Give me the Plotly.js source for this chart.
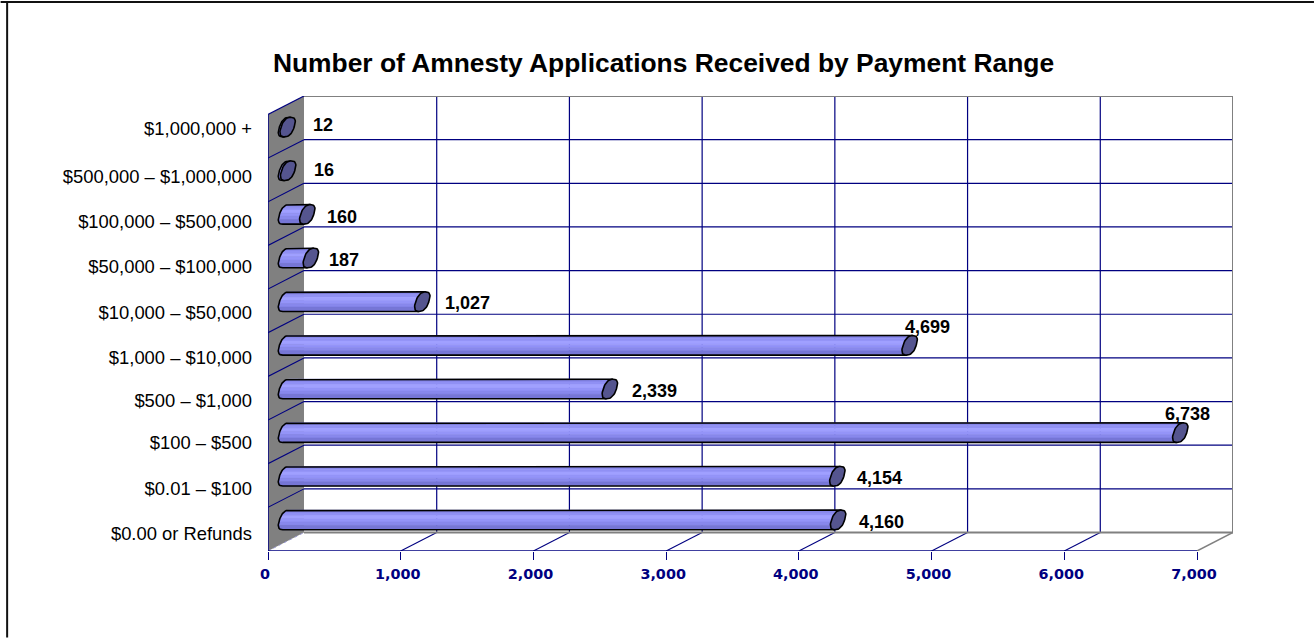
<!DOCTYPE html>
<html><head><meta charset="utf-8">
<script src="https://cdn.plot.ly/plotly-3.0.1.min.js"></script>
<style>html,body{margin:0;padding:0;background:#fff}#c{width:1314px;height:638px}</style>
</head><body><div id="c"></div>
<script>
// ---- data (bottom row first) ----
const categories = ["$0.00 or Refunds","$0.01 – $100","$100 – $500","$500 – $1,000","$1,000 – $10,000","$10,000 – $50,000","$50,000 – $100,000","$100,000 – $500,000","$500,000 – $1,000,000","$1,000,000 +"];
const valueLabels = [4160,4154,6738,2339,4699,1027,187,160,16,12];   // printed beside the bars
const barLengths  = [4160,4154,6738,2440,4699,1027,187,160,16,12];   // as drawn in the picture
const axisTicks = [0,1000,2000,3000,4000,5000,6000,7000];
const axisTickLabels = ["0","1,000","2,000","3,000","4,000","5,000","6,000","7,000"];
const chartTitle = "Number of Amnesty Applications Received by Payment Range";

// ---- layout tables (pixels), kept apart from the data ----
const W=1314,H=638;
const L=267.5,R=1233,T=96,B=551.5;
const DXP=36,DYP=18.5;             // oblique depth of the pseudo-3D box
const UX=132.75/1000,UY=43.7;      // px per value unit, px per row
const DX=DXP/UX,DY=DYP/UY;
const CAP_A=6.6,CAP_B=9.8,CAP_C=3.2,CAP_R=2.5;
const catNudge=[4,2.7,.4,2.1,2.8,1.5,-.7,-2,-3.4,-7.6];       // tick label vertical shift from row centre
const valNudgeX=[19.3,18.1,-17,20,-6.3,21.2,15.7,17.3,23.4,23.9];
const valNudgeY=[-1.6,-1.3,19,-1.7,18.6,-1.1,-1.8,-2.5,.8,1.6];

const NAVY="#000080",GREY="#808080";
const bands=[[1,.72,"#8686ea"],[.72,.44,"#9090f4"],[.44,.12,"#a0a0ff"],[.12,-.2,"#9494f8"],[-.2,-.55,"#8888ec"],[-.55,-1,"#7676d6"]];

const traces=[];
function seg(xs,ys,color,width,dash){traces.push({type:"scatter",mode:"lines",x:xs,y:ys,line:{color:color,width:width,dash:dash||"solid"},hoverinfo:"skip",showlegend:false,cliponaxis:false});}
function poly(xs,ys,fill,lc,lw){traces.push({type:"scatter",mode:"lines",x:xs,y:ys,fill:"toself",fillcolor:fill,line:{color:lc||fill,width:lw===undefined?0.5:lw},hoverinfo:"skip",showlegend:false,cliponaxis:false});}

const rowBottom=-0.5,rowTop=categories.length-0.5;
const xMax=axisTicks[axisTicks.length-1];

// left wall
poly([0,DX,DX,0,0],[rowTop,rowTop+DY,rowBottom+DY,rowBottom,rowTop],GREY,GREY,0);

// back-wall horizontal grid and wall diagonals
categories.forEach((c,i)=>{
  if(i===0) return;
  const r=i-0.5;
  seg([DX,xMax+DX],[r+DY,r+DY],NAVY,1.2);
  seg([0,DX],[r,r+DY],NAVY,1.1);
});
// back-wall verticals and floor diagonals
axisTicks.forEach((t,i)=>{
  if(i>0&&i<axisTicks.length-1){
    seg([t+DX,t+DX],[rowBottom+DY,rowTop+DY],NAVY,1.2);
    seg([t,t+DX],[rowBottom,rowBottom+DY],NAVY,1.1);
  }
});
// box outline
seg([DX,xMax+DX,xMax+DX],[rowTop+DY,rowTop+DY,rowBottom+DY],GREY,2);
seg([DX,xMax+DX],[rowBottom+DY,rowBottom+DY],GREY,2);
seg([xMax,xMax+DX],[rowBottom,rowBottom+DY],GREY,1.5);
seg([0,DX],[rowBottom,rowBottom+DY],"#9a9ad0",1,"dot");
seg([0,DX],[rowTop,rowTop+DY],NAVY,1.2);
seg([0,0],[rowBottom,rowTop],NAVY,1.5);
seg([0,xMax],[rowBottom,rowBottom],NAVY,1.5);

// bars
const sx=p=>p/UX, sy=p=>p/UY;
function us(u0,u1,n){const o=[];for(let k=0;k<=n;k++)o.push(u0+(u1-u0)*k/n);return o;}
const leftEdge=q=>CAP_C*q-CAP_A*Math.pow(Math.max(0,1-Math.pow(Math.abs(q),CAP_R)),1/CAP_R);
const spow=t=>Math.sign(t)*Math.pow(Math.abs(t),2/CAP_R);
bands.forEach(b=>{
  const xs=[],ys=[];
  barLengths.forEach((v,i)=>{
    const cx0=DX/2,cx1=v+DX/2,cy=i+DY/2;
    const u=us(b[0],b[1],8);
    u.forEach(q=>{xs.push(cx0+sx(leftEdge(q)));ys.push(cy+sy(CAP_B*q));});
    [...u].reverse().forEach(q=>{xs.push(cx1+sx(CAP_C*q));ys.push(cy+sy(CAP_B*q));});
    xs.push(xs[xs.length-2*u.length]);ys.push(ys[ys.length-2*u.length]);
    xs.push(null);ys.push(null);
  });
  poly(xs,ys,b[2],b[2],0.6);
});
// bar outlines
(function(){
  const xs=[],ys=[];
  barLengths.forEach((v,i)=>{
    const cx0=DX/2,cx1=v+DX/2,cy=i+DY/2;
    xs.push(cx1+sx(CAP_C));ys.push(cy+sy(CAP_B));
    us(1,-1,40).forEach(q=>{xs.push(cx0+sx(leftEdge(q)));ys.push(cy+sy(CAP_B*q));});
    xs.push(cx1-sx(CAP_C));ys.push(cy-sy(CAP_B));
    xs.push(null);ys.push(null);
  });
  seg(xs,ys,"#000",1.6);
})();
// end caps
(function(){
  const xs=[],ys=[];
  barLengths.forEach((v,i)=>{
    const cx1=v+DX/2,cy=i+DY/2;
    for(let k=0;k<=48;k++){
      const t=2*Math.PI*k/48,q=spow(Math.sin(t)),c=spow(Math.cos(t));
      xs.push(cx1+sx(CAP_A*c+CAP_C*q));ys.push(cy+sy(CAP_B*q));
    }
    xs.push(null);ys.push(null);
  });
  poly(xs,ys,"#55558f","#000",1.6);
})();

const annotations=valueLabels.map((v,i)=>({
  x:barLengths[i]+DX/2,y:i+DY/2,xref:"x",yref:"y",xanchor:"left",yanchor:"middle",showarrow:false,
  text:v.toLocaleString("en-US"),xshift:valNudgeX[i],yshift:valNudgeY[i],
  font:{family:"Liberation Sans",size:18,color:"#000",weight:700}
}));

const px=x=>(x-L)/(R-L), py=y=>(B-y)/(B-T);
const shapes=[
  {type:"line",xref:"paper",yref:"paper",x0:px(0),x1:px(W),y0:py(2),y1:py(2),line:{color:"#111",width:2}},
  {type:"line",xref:"paper",yref:"paper",x0:px(6.5),x1:px(6.5),y0:py(1),y1:py(H),line:{color:"#111",width:2}}
];

Plotly.newPlot("c",traces,{
  width:W,height:H,paper_bgcolor:"#fff",plot_bgcolor:"#fff",showlegend:false,
  margin:{l:L,r:W-R,t:T,b:H-B,pad:0},
  title:{text:"<b>"+chartTitle+"</b>",x:663.5/W,xanchor:"center",y:1-63/H,yanchor:"middle",
         font:{family:"Liberation Sans",size:26.4,color:"#000"}},
  xaxis:{range:[0,xMax+DX],tickmode:"array",tickvals:axisTicks,ticktext:axisTickLabels,
         ticks:"outside",ticklen:8,tickwidth:1,tickcolor:NAVY,showgrid:false,zeroline:false,showline:false,
         ticklabelshift:-3,ticklabelstandoff:2,
         tickfont:{family:"DejaVu Sans",size:14.4,color:NAVY,weight:700},automargin:false},
  yaxis:{range:[rowBottom,rowTop+DY],tickmode:"array",
         tickvals:categories.map((c,i)=>i-catNudge[i]/UY),ticktext:categories,
         ticks:"",showgrid:false,zeroline:false,showline:false,ticklabelstandoff:15,
         tickfont:{family:"Liberation Sans",size:18.4,color:"#000"},automargin:false},
  annotations:annotations,shapes:shapes
},{displayModeBar:false,staticPlot:true});
</script></body></html>
